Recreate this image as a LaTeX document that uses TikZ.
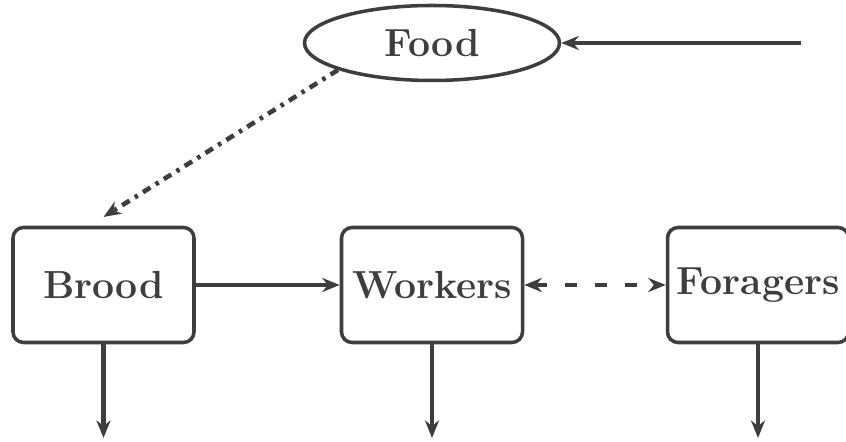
\documentclass[tikz,border=0pt]{standalone}
\usepackage{tikz}
\usetikzlibrary{arrows.meta,shapes.geometric,positioning}
\definecolor{hiveink}{HTML}{3E3E3E}

\begin{document}
\begin{tikzpicture}[>={Stealth[length=10pt,width=8pt]},line width=2pt,
  draw=hiveink,text=hiveink,
  font=\fontsize{22.3}{26}\selectfont\bfseries,
  stage/.style={draw=hiveink,rounded corners=6pt,minimum width=3.62cm,minimum height=2.3cm,inner sep=1pt},
  flow/.style={->,draw=hiveink,line width=2.3pt},
  feed/.style={->,draw=hiveink,line width=2.6pt,dash pattern=on 5pt off 3.5pt on 2pt off 3.5pt},
  swap/.style={<->,draw=hiveink,line width=2.3pt,dash pattern=on 7pt off 10pt}]
\path[use as bounding box] (0,0) rectangle (16.92,8.84);
\fill[white] (0,0) rectangle (16.92,8.84);
% nodes
\node[ellipse,draw=hiveink,minimum width=5.1cm,minimum height=1.5cm] (food) at (8.64,7.98) {Food};
\node[stage] (brood) at (2.07,3.14) {Brood};
\node[stage] (workers) at (8.64,3.14) {Workers};
\node[stage] (foragers) at (15.16,3.14) {Foragers};
% free ends
\coordinate (supply) at (16.02,7.98);
\coordinate (broodout) at (2.07,0.08);
\coordinate (workersout) at (8.64,0.08);
\coordinate (foragersout) at (15.16,0.08);
% connectors
\draw[flow] (supply) -- (food);
\draw[feed] (food.196) -- ([yshift=5pt]brood.north);
\draw[flow] (brood) -- (workers);
\draw[swap] (workers) -- (foragers);
\draw[flow] (brood) -- (broodout);
\draw[flow] (workers) -- (workersout);
\draw[flow] (foragers) -- (foragersout);
\end{tikzpicture}
\end{document}
